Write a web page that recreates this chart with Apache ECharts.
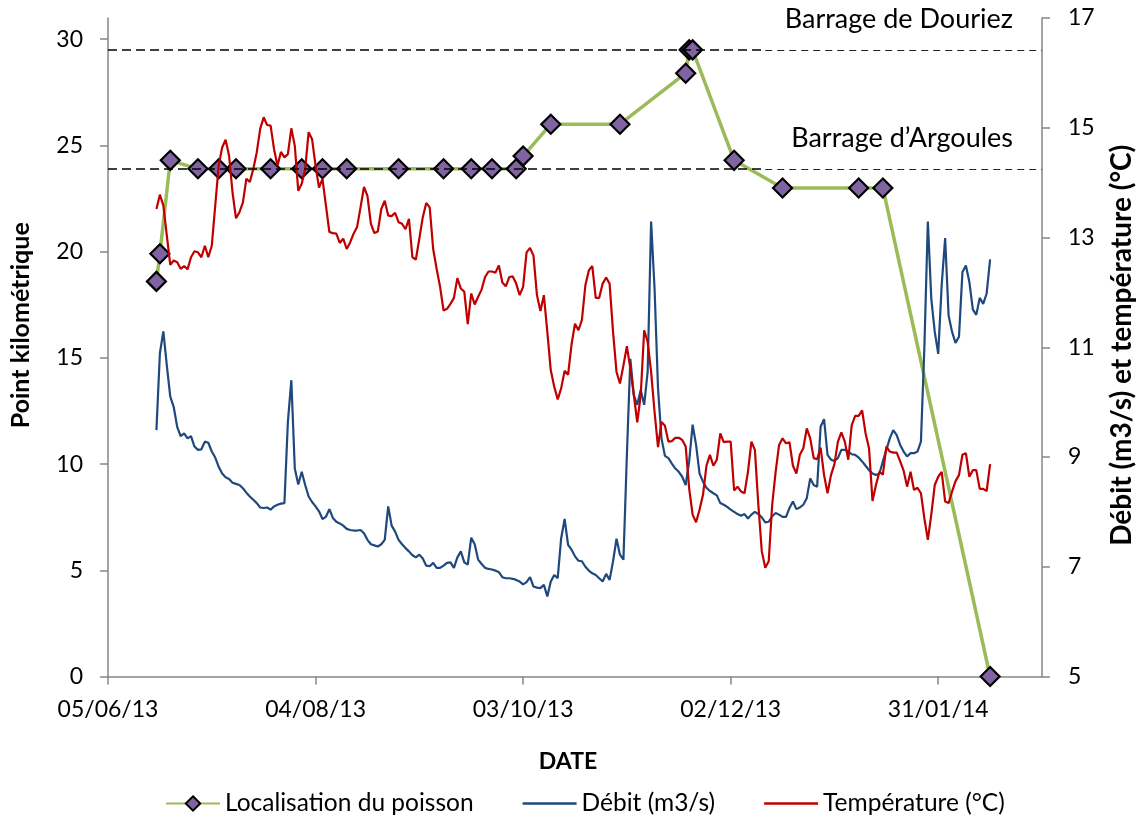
<!DOCTYPE html>
<html>
<head>
<meta charset="utf-8">
<script src="https://cdn.jsdelivr.net/npm/echarts@6/dist/echarts.min.js"></script>
<style>
  html, body { margin: 0; padding: 0; background: #ffffff; }
  #chart { width: 1137px; height: 819px; }
</style>
</head>
<body>
<div id="chart"></div>
<script>
// Date axis range and tick dates (every 60 days)
const axisStart = '2013-06-05';
const axisEnd = '2014-03-02';
const tickDates = ['2013-06-05', '2013-08-04', '2013-10-03', '2013-12-02', '2014-01-31'];
const kmTicks = [0, 5, 10, 15, 20, 25, 30];
const rightTicks = [5, 7, 9, 11, 13, 15, 17];

// Fish position (kilometre point) at each detection
const fishDates = ['2013-06-19', '2013-06-20', '2013-06-23', '2013-07-01', '2013-07-07', '2013-07-12',
  '2013-07-22', '2013-07-31', '2013-08-06', '2013-08-13', '2013-08-28', '2013-09-10', '2013-09-18',
  '2013-09-24', '2013-10-01', '2013-10-03', '2013-10-11', '2013-10-31', '2013-11-19', '2013-11-20',
  '2013-11-21', '2013-12-03', '2013-12-17', '2014-01-08', '2014-01-15', '2014-02-15'];
const fishKm = [18.6, 19.9, 24.3, 23.9, 23.9, 23.9,
  23.9, 23.9, 23.9, 23.9, 23.9, 23.9, 23.9,
  23.9, 23.9, 24.5, 26.0, 26.0, 28.4, 29.5,
  29.5, 24.3, 23.0, 23.0, 23.0, 0];

// Daily measurements starting on this date
const dailyStart = '2013-06-19';
const debit = [
  9.49, 10.89, 11.29, 10.67, 10.10, 9.91, 9.55, 9.38, 9.43, 9.34,
  9.38, 9.19, 9.13, 9.14, 9.28, 9.26, 9.10, 8.99, 8.82, 8.70,
  8.63, 8.60, 8.53, 8.51, 8.49, 8.43, 8.35, 8.28, 8.22, 8.16,
  8.08, 8.07, 8.08, 8.04, 8.10, 8.13, 8.15, 8.16, 9.64, 10.40,
  8.79, 8.50, 8.73, 8.49, 8.28, 8.18, 8.10, 8.01, 7.87, 7.91,
  8.05, 7.89, 7.82, 7.79, 7.75, 7.69, 7.67, 7.66, 7.66, 7.67,
  7.61, 7.49, 7.41, 7.39, 7.37, 7.41, 7.49, 8.10, 7.75, 7.64,
  7.49, 7.41, 7.34, 7.28, 7.21, 7.17, 7.22, 7.15, 7.02, 7.01,
  7.07, 6.98, 6.98, 7.02, 7.07, 7.08, 6.98, 7.17, 7.28, 7.08,
  7.04, 7.53, 7.41, 7.13, 7.05, 6.98, 6.96, 6.95, 6.93, 6.90,
  6.81, 6.79, 6.79, 6.78, 6.76, 6.73, 6.68, 6.72, 6.81, 6.64,
  6.62, 6.61, 6.67, 6.46, 6.73, 6.85, 6.79, 7.52, 7.87, 7.40,
  7.31, 7.19, 7.11, 7.10, 7.00, 6.93, 6.88, 6.85, 6.79, 6.73,
  6.87, 6.76, 7.10, 7.51, 7.22, 7.13, 9.04, 10.79, 10.13, 9.95,
  10.22, 9.95, 10.55, 13.29, 12.07, 10.25, 9.34, 9.02, 8.98, 8.88,
  8.79, 8.73, 8.64, 8.49, 8.92, 9.59, 9.22, 8.70, 8.55, 8.44,
  8.38, 8.34, 8.30, 8.16, 8.13, 8.09, 8.04, 8.00, 7.96, 7.93,
  7.96, 7.88, 7.95, 8.00, 7.96, 7.90, 7.81, 7.82, 7.92, 7.98,
  7.95, 7.91, 7.91, 8.07, 8.19, 8.05, 8.08, 8.13, 8.25, 8.61,
  8.49, 8.46, 9.55, 9.69, 9.04, 8.95, 8.93, 8.98, 9.13, 9.13,
  9.10, 9.05, 9.04, 8.99, 8.92, 8.84, 8.76, 8.70, 8.67, 8.70,
  8.92, 9.13, 9.34, 9.49, 9.40, 9.22, 9.10, 9.01, 9.07, 9.07,
  9.10, 9.28, 11.00, 13.29, 11.88, 11.28, 10.88, 12.13, 12.99, 11.58,
  11.28, 11.08, 11.19, 12.37, 12.49, 12.19, 11.69, 11.59, 11.90, 11.79,
  11.98, 12.60
];
const temperature = [
  13.52, 13.78, 13.58, 13.04, 12.50, 12.58, 12.55, 12.43, 12.48, 12.42,
  12.64, 12.75, 12.73, 12.64, 12.85, 12.64, 12.85, 13.58, 14.31, 14.64,
  14.78, 14.49, 13.82, 13.35, 13.46, 13.64, 14.07, 14.01, 14.25, 14.55,
  14.98, 15.19, 15.05, 15.04, 14.61, 14.31, 14.56, 14.46, 14.52, 14.99,
  14.67, 13.85, 13.98, 14.25, 14.92, 14.79, 14.31, 13.91, 14.07, 13.58,
  13.10, 13.08, 13.07, 12.90, 12.98, 12.79, 12.91, 13.07, 13.19, 13.55,
  13.92, 13.76, 13.25, 13.08, 13.11, 13.52, 13.67, 13.40, 13.39, 13.45,
  13.28, 13.25, 13.15, 13.34, 12.64, 12.60, 12.98, 13.37, 13.63, 13.55,
  12.79, 12.43, 12.10, 11.67, 11.70, 11.79, 11.90, 12.26, 12.07, 12.01,
  11.42, 11.98, 11.78, 11.92, 12.05, 12.28, 12.38, 12.38, 12.36, 12.49,
  12.18, 12.11, 12.28, 12.29, 12.16, 11.95, 12.10, 12.73, 12.81, 12.67,
  11.95, 11.66, 11.95, 11.28, 10.58, 10.28, 10.05, 10.25, 10.57, 10.50,
  11.05, 11.43, 11.31, 11.50, 12.13, 12.40, 12.48, 11.90, 11.90, 12.16,
  12.27, 12.16, 11.28, 10.55, 10.34, 10.67, 11.02, 10.61, 10.13, 9.63,
  10.13, 11.31, 11.10, 10.55, 9.82, 9.18, 9.64, 9.57, 9.28, 9.29,
  9.35, 9.35, 9.31, 9.19, 8.43, 7.95, 7.81, 8.04, 8.31, 8.84,
  9.04, 8.84, 8.95, 9.43, 9.27, 9.28, 9.28, 8.39, 8.46, 8.37,
  8.34, 8.73, 9.28, 9.13, 8.13, 7.28, 6.98, 7.10, 8.13, 8.73,
  9.22, 9.34, 9.25, 9.27, 8.84, 8.70, 9.04, 9.16, 9.52, 9.34,
  8.98, 8.96, 9.17, 8.67, 8.34, 8.67, 8.87, 9.28, 9.45, 9.28,
  8.95, 9.58, 9.75, 9.75, 9.85, 9.43, 9.16, 8.20, 8.49, 8.73,
  8.68, 9.19, 9.10, 9.08, 9.08, 8.92, 8.75, 8.46, 8.73, 8.40,
  8.44, 8.34, 7.88, 7.49, 7.95, 8.49, 8.64, 8.73, 8.19, 8.16,
  8.37, 8.56, 8.67, 9.04, 9.07, 8.64, 8.76, 8.76, 8.42, 8.42,
  8.38, 8.87
];

// Dams along the river (kilometre point)
const damNames = ['Barrage de Douriez', 'Barrage d\u2019Argoules'];
const damKm = [29.5, 23.9];
const damSplitDate = '2013-12-12';

const DAY = 86400000;
const ts = s => Date.parse(s + 'T00:00:00Z');
const pad2 = n => String(n).padStart(2, '0');
const fmtDate = v => {
  const d = new Date(v);
  return pad2(d.getUTCDate()) + '/' + pad2(d.getUTCMonth() + 1) + '/' + pad2(d.getUTCFullYear() % 100);
};

const FONT = 'Lato';
const AXIS_COLOR = '#868686';
const LINE_ICON = 'path://M0,0H50V2.5H0Z';
const t0 = ts(dailyStart);

const fishData = fishDates.map((d, i) => [ts(d), fishKm[i]]);
const debitData = debit.map((v, i) => [t0 + i * DAY, v]);
const tempData = temperature.map((v, i) => [t0 + i * DAY, v]);

const damLines = [];
damNames.forEach((name, i) => {
  damLines.push([
    { coord: [ts(axisStart), damKm[i]], lineStyle: { type: [9, 5], width: 1.6, color: '#000' } },
    { coord: [ts(damSplitDate), damKm[i]] }
  ]);
  damLines.push([
    {
      coord: [ts(damSplitDate), damKm[i]], name: name,
      lineStyle: { type: [7, 5], width: 1, color: '#222' },
      label: {
        show: true, position: 'insideEndTop', formatter: name,
        distance: [29, 17], fontFamily: FONT, fontSize: 27, color: '#000'
      }
    },
    { coord: [ts(axisEnd), damKm[i]] }
  ]);
});

const chart = echarts.init(document.getElementById('chart'), null, { renderer: 'canvas' });
chart.setOption({
  animation: false,
  backgroundColor: '#ffffff',
  textStyle: { fontFamily: FONT },
  grid: { left: 108, right: 95, top: 18, bottom: 142.5, containLabel: false, outerBoundsMode: 'none' },
  legend: {
    left: 160, top: 786,
    itemWidth: 54, itemHeight: 18, itemGap: 49,
    textStyle: { fontFamily: FONT, fontSize: 24.5, color: '#000' },
    data: [
      { name: 'Localisation du poisson' },
      { name: 'Débit (m3/s)', icon: LINE_ICON },
      { name: 'Température (°C)', icon: LINE_ICON }
    ]
  },
  xAxis: {
    type: 'value',
    min: ts(axisStart), max: ts(axisEnd),
    name: 'DATE', nameLocation: 'middle', nameGap: 74,
    nameTextStyle: { fontFamily: FONT, fontSize: 23, fontWeight: 'bold', color: '#000', padding: [0, 14, 0, 0] },
    axisLine: { show: true, lineStyle: { color: AXIS_COLOR, width: 1.5 } },
    axisTick: { show: true, length: 8, customValues: tickDates.map(ts), lineStyle: { color: AXIS_COLOR, width: 1.5 } },
    axisLabel: { customValues: tickDates.map(ts), formatter: fmtDate, margin: 22, fontFamily: FONT, fontSize: 23, color: '#000' },
    splitLine: { show: false }
  },
  yAxis: [
    {
      type: 'value', position: 'left', min: 0, max: 31,
      name: 'Point kilométrique', nameLocation: 'middle', nameRotate: 90, nameGap: 75,
      nameTextStyle: { fontFamily: FONT, fontSize: 25, fontWeight: 'bold', color: '#000', padding: [0, 0, 0, 44] },
      axisLine: { show: true, lineStyle: { color: AXIS_COLOR, width: 1.5 } },
      axisTick: { show: true, length: 8, customValues: kmTicks, lineStyle: { color: AXIS_COLOR, width: 1.5 } },
      axisLabel: { customValues: kmTicks, margin: 25, fontFamily: FONT, fontSize: 23, color: '#000' },
      splitLine: { show: false }
    },
    {
      type: 'value', position: 'right', min: 5, max: 17,
      name: 'Débit (m3/s) et température (°C)', nameLocation: 'middle', nameRotate: 90, nameGap: 66,
      nameTextStyle: { fontFamily: FONT, fontSize: 28, fontWeight: 'bold', color: '#000', padding: [0, 0, 0, 4] },
      axisLine: { show: true, lineStyle: { color: AXIS_COLOR, width: 1.5 } },
      axisTick: { show: true, length: 8, customValues: rightTicks, lineStyle: { color: AXIS_COLOR, width: 1.5 } },
      axisLabel: { customValues: rightTicks, margin: 26, fontFamily: FONT, fontSize: 23, color: '#000' },
      splitLine: { show: false }
    }
  ],
  series: [
    {
      name: 'Localisation du poisson', type: 'line', yAxisIndex: 0,
      data: fishData,
      symbol: 'diamond', symbolSize: 19, showSymbol: true,
      lineStyle: { color: '#9BBB59', width: 3.5 },
      itemStyle: { color: '#8064A2', borderColor: '#000', borderWidth: 2.2 },
      emphasis: { disabled: true },
      markLine: { silent: true, symbol: ['none', 'none'], data: damLines, emphasis: { disabled: true } },
      z: 2
    },
    {
      name: 'Débit (m3/s)', type: 'line', yAxisIndex: 1,
      data: debitData, symbol: 'none',
      lineStyle: { color: '#1F497D', width: 2.2 },
      itemStyle: { color: '#1F497D' },
      emphasis: { disabled: true },
      z: 3
    },
    {
      name: 'Température (°C)', type: 'line', yAxisIndex: 1,
      data: tempData, symbol: 'none',
      lineStyle: { color: '#C00000', width: 2.2 },
      itemStyle: { color: '#C00000' },
      emphasis: { disabled: true },
      z: 4
    }
  ]
});
</script>
</body>
</html>
